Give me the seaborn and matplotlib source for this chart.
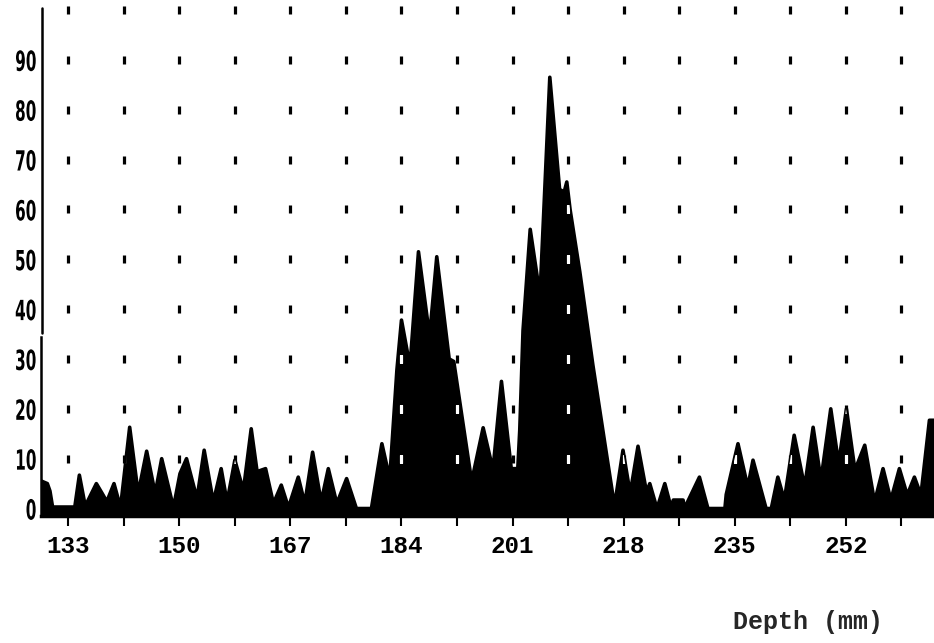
import matplotlib
matplotlib.use("Agg")
import matplotlib.pyplot as plt
import matplotlib.patheffects as pe
from matplotlib.transforms import Affine2D
import seaborn as sns

# depth profile (peak tops and valley floors)
depth = [128.9, 129.8, 130.2, 130.6, 134.0, 134.7, 135.6, 137.3, 138.2, 138.9,
         140.0, 141.0, 142.4, 143.7, 145.0, 146.3, 147.3, 149.1, 150.1, 151.1,
         152.7, 153.8, 155.2, 156.4, 157.3, 158.5, 159.8, 161.0, 161.9, 163.2,
         164.4, 165.6, 166.7, 168.2, 169.2, 170.4, 171.7, 172.8, 174.1, 175.6,
         177.1, 179.4, 181.0, 182.2, 183.3, 184.0, 185.3, 186.6, 188.3, 189.4,
         191.3, 192.0, 194.5, 194.7, 196.5, 198.0, 199.3, 200.8, 201.8, 202.1,
         202.6, 203.7, 205.2, 206.7, 208.2, 208.9, 209.3, 209.8, 211.3, 213.3,
         215.4, 216.6, 217.9, 219.0, 220.2, 221.5, 222.0, 223.1, 224.3, 225.3,
         225.6, 227.1, 227.3, 229.6, 230.9, 233.5, 233.7, 235.5, 237.0, 237.8,
         239.8, 240.6, 241.6, 242.6, 244.1, 245.7, 247.0, 248.2, 249.7, 250.9,
         252.1, 253.4, 254.9, 256.4, 257.7, 258.9, 260.2, 261.4, 262.5, 263.5,
         264.8, 265.5]
counts = [5.5, 5.0, 3.5, 0.3, 0.3, 6.7, 0.5, 5.0, 3.0, 1.4,
          5.0, 0.2, 16.3, 3.0, 11.5, 3.0, 10.0, 0.2, 7.0, 10.0,
          2.0, 11.7, 1.3, 8.0, 1.3, 9.7, 3.6, 16.0, 7.4, 8.0,
          1.0, 4.7, 0.2, 6.3, 1.0, 11.3, 1.3, 8.0, 1.0, 6.0,
          0.0, 0.0, 13.0, 6.0, 27.8, 37.8, 28.5, 51.5, 34.5, 50.5,
          30.0, 29.5, 7.5, 5.2, 16.2, 7.8, 25.5, 8.0, 8.0, 15.7,
          35.7, 56.0, 42.7, 86.5, 64.0, 63.5, 65.5, 60.0, 47.4, 28.7,
          10.7, 0.5, 11.7, 3.0, 12.5, 3.3, 5.0, 0.0, 5.0, 0.0,
          1.7, 1.7, 0.0, 6.3, 0.0, 0.0, 2.8, 13.0, 4.3, 9.7,
          0.0, 0.0, 6.3, 1.7, 14.7, 4.3, 16.3, 5.7, 20.0, 9.0,
          20.0, 7.7, 12.7, 1.3, 8.0, 1.7, 8.0, 2.7, 6.3, 2.7,
          17.7, 17.7]

grid_depths = [133, 141.5, 150, 158.5, 167, 175.5, 184, 192.5, 201, 209.5,
               218, 226.5, 235, 243.5, 252, 260.5]
label_depths = [133, 150, 167, 184, 201, 218, 235, 252]
grid_levels = [10, 20, 30, 40, 50, 60, 70, 80, 90, 100]
y_ticks = [0, 10, 20, 30, 40, 50, 60, 70, 80, 90]


class Squeeze(pe.AbstractPathEffect):
    """Narrow the glyphs horizontally, keeping the right edge in place."""

    def __init__(self, sx):
        super().__init__()
        self.sx = sx

    def draw_path(self, renderer, gc, tpath, affine, rgbFace=None):
        ext = tpath.get_extents(affine)
        squeeze = Affine2D().translate(-ext.x1, 0).scale(self.sx, 1).translate(ext.x1, 0)
        renderer.draw_path(gc, tpath, affine + squeeze, rgbFace)


sns.set_style("white")
fig = plt.figure(figsize=(9.34, 6.43), dpi=100)
ax = fig.add_axes([0.0444, 0.1975, 0.9556, 0.7901])

x0, x1 = 128.9, 265.5
y0, y1 = -1.5, 100.4

# dotted grid, black on paper
gx = [x for x in grid_depths for _ in grid_levels]
gy = [y for _ in grid_depths for y in grid_levels]
ax.plot(gx, gy, ls="none", marker="|", ms=6, mew=2.3, color="black",
        clip_on=False, zorder=1)

# thick outline gives the spikes their blocky printer width
sns.lineplot(x=depth, y=counts, sort=False, color="black", lw=2.6, ax=ax,
             zorder=2)
poly = ax.fill_between(depth, counts, y0, color="black", lw=0, zorder=2)

# dots show up white where the histogram covers them
white, = ax.plot(gx, gy, ls="none", marker="|", ms=6, mew=2.3, color="white",
                 zorder=3)
white.set_clip_path(poly.get_paths()[0], ax.transData)

ax.set_xlim(x0, x1)
ax.set_ylim(y0, y1)

ax.set_xticks(grid_depths)
ax.set_xticklabels([str(d) if d in label_depths else "" for d in grid_depths],
                   family="Liberation Mono", fontweight="bold", fontsize=17.5)
ax.set_yticks(y_ticks)
ax.set_yticklabels([str(v) for v in y_ticks], family="DejaVu Sans",
                   fontweight="bold", fontsize=20)
for lab in ax.get_yticklabels():
    lab.set_path_effects([Squeeze(0.55)])
ax.tick_params(axis="x", direction="out", length=7, width=1.5, pad=7,
               bottom=True, colors="black")
ax.tick_params(axis="y", length=0, pad=3.2, colors="black")

for side in ["top", "right"]:
    ax.spines[side].set_visible(False)
ax.spines["bottom"].set_linewidth(2.5)
ax.spines["left"].set_linewidth(1.8)
ax.spines["left"].set_bounds(y0, 34.5)
ax.axvline(x0 + 0.15, ymin=(35.2 - y0) / (y1 - y0), ymax=1, color="black",
           lw=1.8, clip_on=False)
for s in ax.spines.values():
    s.set_color("black")

fig.text(808 / 934, 1 - 622 / 643, "Depth (mm)", family="Liberation Mono",
         fontweight="bold", fontsize=18, ha="center", va="center")

fig.savefig("out.png", dpi=100, facecolor="white")
